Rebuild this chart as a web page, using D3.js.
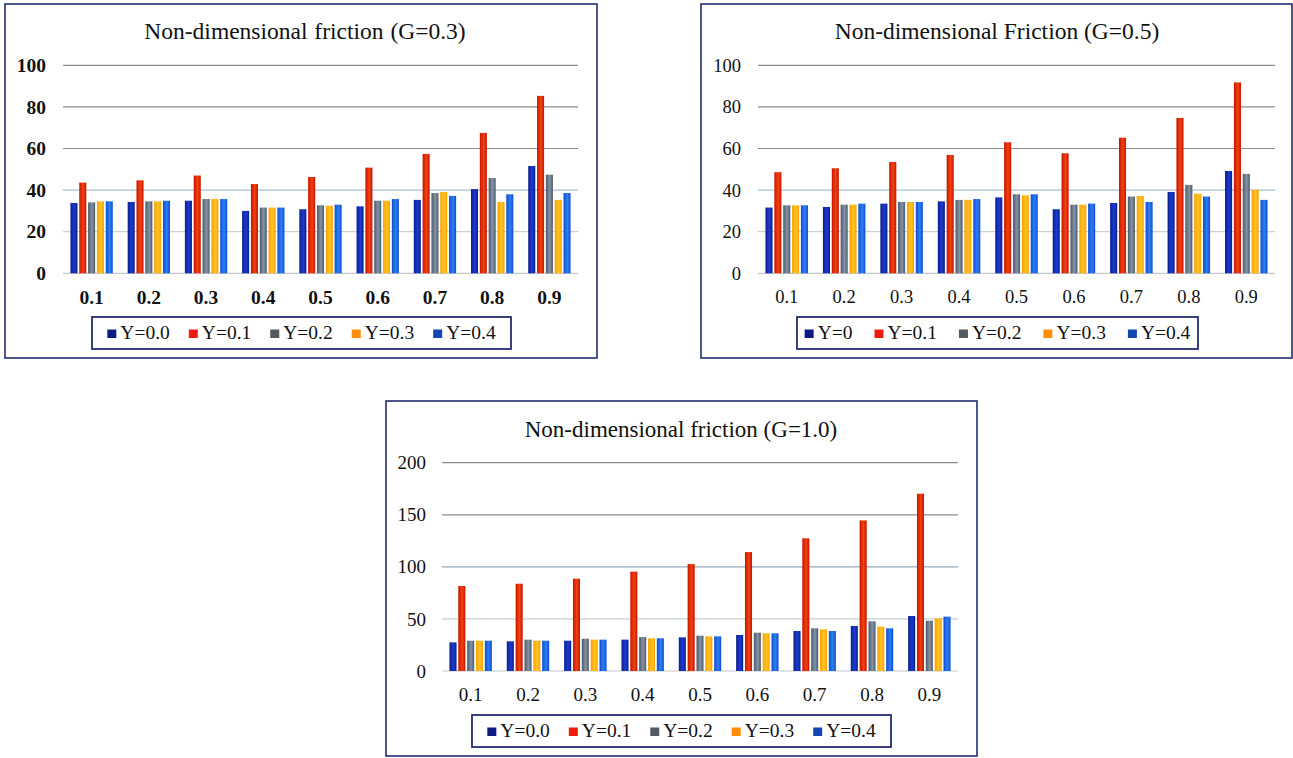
<!DOCTYPE html>
<html>
<head>
<meta charset="utf-8">
<script src="https://cdn.jsdelivr.net/npm/d3@7"></script>
<style>
  html, body { margin: 0; padding: 0; background: #ffffff; }
  svg { display: block; }
  text { font-family: "Liberation Serif", "Times New Roman", serif; fill: #111; }
</style>
</head>
<body>
<svg id="fig" width="1293" height="758"></svg>
<script>
// Categories on the x axis (shared by all three panels)
const categories = ["0.1", "0.2", "0.3", "0.4", "0.5", "0.6", "0.7", "0.8", "0.9"];

// Legend labels
const seriesLabelsA = ["Y=0.0", "Y=0.1", "Y=0.2", "Y=0.3", "Y=0.4"];
const seriesLabelsB = ["Y=0", "Y=0.1", "Y=0.2", "Y=0.3", "Y=0.4"];

// Non-dimensional friction, G = 0.3
const g03_y00 = [33.8, 34.3, 34.9, 30.0, 30.8, 32.2, 35.3, 40.5, 51.6];
const g03_y01 = [43.6, 44.7, 47.0, 42.9, 46.3, 50.8, 57.4, 67.5, 85.3];
const g03_y02 = [34.1, 34.6, 35.7, 31.6, 32.7, 34.9, 38.6, 45.8, 47.4];
const g03_y03 = [34.6, 34.6, 35.7, 31.6, 32.5, 34.9, 39.1, 34.3, 35.3];
const g03_y04 = [34.6, 34.9, 35.7, 31.6, 33.0, 35.7, 37.2, 38.0, 38.6];

// Non-dimensional friction, G = 0.5
const g05_y00 = [31.6, 31.9, 33.5, 34.6, 36.5, 30.8, 33.8, 39.1, 49.2];
const g05_y01 = [48.6, 50.5, 53.5, 56.9, 63.0, 57.7, 65.2, 74.7, 91.8];
const g05_y02 = [32.7, 33.0, 34.3, 35.3, 38.0, 33.0, 36.9, 42.5, 47.8];
const g05_y03 = [32.7, 33.0, 34.3, 35.3, 37.5, 33.0, 37.2, 38.3, 40.2];
const g05_y04 = [32.7, 33.5, 34.3, 35.7, 38.0, 33.5, 34.3, 36.9, 35.3];

// Non-dimensional friction, G = 1.0
const g10_y00 = [27.5, 28.5, 29.1, 30.1, 32.3, 34.6, 38.4, 43.2, 52.8];
const g10_y01 = [81.6, 83.8, 88.6, 95.4, 102.7, 114.2, 127.4, 144.6, 170.2];
const g10_y02 = [29.1, 30.1, 31.0, 32.6, 33.9, 36.8, 41.0, 47.7, 48.3];
const g10_y03 = [29.1, 29.1, 30.1, 31.4, 33.3, 36.2, 40.0, 42.6, 50.6];
const g10_y04 = [29.1, 29.1, 30.1, 31.4, 33.3, 36.2, 38.4, 41.0, 52.2];

// Y-axis ticks
const ticks100 = [0, 20, 40, 60, 80, 100];
const ticks200 = [0, 50, 100, 150, 200];

// Series styling: bar gradient (edge, centre) and legend swatch colour
const seriesStyles = [
  { edge: "#0b1d92", mid: "#1b3ccc", swatch: "#0c1a84" },
  { edge: "#c81400", mid: "#f2420f", swatch: "#ec1c0e" },
  { edge: "#4c5b6b", mid: "#8494a4", swatch: "#555a60" },
  { edge: "#ffa000", mid: "#ffc426", swatch: "#ff8c0c" },
  { edge: "#0c4fd2", mid: "#2e7ef2", swatch: "#1446b2" }
];

const svg = d3.select("#fig");
const defs = svg.append("defs");

seriesStyles.forEach((s, i) => {
  const g = defs.append("linearGradient")
    .attr("id", "barGrad" + i)
    .attr("x1", "0").attr("y1", "0").attr("x2", "1").attr("y2", "0");
  g.append("stop").attr("offset", "0").attr("stop-color", s.edge);
  g.append("stop").attr("offset", "0.55").attr("stop-color", s.mid);
  g.append("stop").attr("offset", "1").attr("stop-color", s.edge);
});

function gridColor(frac) {
  if (frac <= 0) return "#c4c8cc";
  if (frac < 0.3) return "#c9d0d6";
  if (frac < 0.45) return "#a8c2d6";
  if (frac < 0.55) return "#93a9b8";
  return "#8d8d8d";
}

function drawPanel(cfg) {
  const g = svg.append("g");

  // Panel frame
  g.append("rect")
    .attr("x", cfg.frame[0]).attr("y", cfg.frame[1])
    .attr("width", cfg.frame[2]).attr("height", cfg.frame[3])
    .attr("fill", "#fff").attr("stroke", "#232c72").attr("stroke-width", 1.6);

  // Title
  g.append("text")
    .attr("x", cfg.titleX).attr("y", cfg.titleY)
    .attr("text-anchor", "middle")
    .attr("font-size", cfg.titleSize)
    .style("font-family", '"Liberation Serif", serif')
    .style("word-spacing", cfg.wordSpacing + "px")
    .text(cfg.title);

  const x = d3.scaleBand().domain(categories).range([cfg.plot.left, cfg.plot.right]).padding(0);
  const xs = d3.scaleBand().domain(d3.range(cfg.series.length))
    .range([x.bandwidth() * 0.13, x.bandwidth() * 0.87]).paddingInner(0.2);
  const y = d3.scaleLinear().domain([0, cfg.yMax]).range([cfg.plot.bottom, cfg.plot.top]);

  // Horizontal gridlines
  g.append("g").selectAll("line").data(cfg.ticks).join("line")
    .attr("x1", cfg.plot.left).attr("x2", cfg.plot.right)
    .attr("y1", d => y(d)).attr("y2", d => y(d))
    .attr("stroke", d => gridColor(d / cfg.yMax))
    .attr("stroke-width", 1.2);

  // Y axis labels
  const yAxis = d3.axisLeft(y).tickValues(cfg.ticks).tickSize(0).tickPadding(cfg.yPad);
  const ya = g.append("g").attr("transform", `translate(${cfg.plot.left},0)`).call(yAxis);
  ya.select(".domain").remove();
  ya.selectAll("text")
    .attr("font-size", cfg.tickSize)
    .attr("font-weight", cfg.bold ? "bold" : "normal")
    .attr("fill", "#111");

  // X axis labels
  const xAxis = d3.axisBottom(x).tickSize(0).tickPadding(cfg.xPad);
  const xa = g.append("g").attr("transform", `translate(0,${cfg.plot.bottom})`).call(xAxis);
  xa.select(".domain").remove();
  xa.selectAll("text")
    .attr("font-size", cfg.tickSize)
    .attr("font-weight", cfg.bold ? "bold" : "normal")
    .attr("fill", "#111");

  // Bars
  cfg.series.forEach((vals, si) => {
    g.append("g").selectAll("rect").data(vals).join("rect")
      .attr("x", (d, i) => x(categories[i]) + xs(si))
      .attr("width", xs.bandwidth())
      .attr("y", d => y(d))
      .attr("height", d => y(0) - y(d))
      .attr("fill", `url(#barGrad${si})`);
  });

  // Legend
  const lb = cfg.legendBox;
  const leg = g.append("g");
  leg.append("rect")
    .attr("x", lb[0]).attr("y", lb[1]).attr("width", lb[2]).attr("height", lb[3])
    .attr("fill", "#fff").attr("stroke", "#232c72").attr("stroke-width", 1.8);

  const items = leg.selectAll("g.item").data(cfg.labels).join("g").attr("class", "item");
  items.append("rect")
    .attr("y", -9.5)
    .attr("width", 9).attr("height", 8.5)
    .attr("fill", (d, i) => seriesStyles[i].swatch);
  items.append("text")
    .attr("x", 13).attr("y", 0)
    .attr("font-size", 19.5)
    .text(d => d);

  const gap = cfg.legendGap;
  const widths = [];
  items.each(function () {
    widths.push(13 + d3.select(this).select("text").node().getComputedTextLength());
  });
  const total = d3.sum(widths) + gap * (widths.length - 1);
  let cx = lb[0] + (lb[2] - total) / 2;
  const baseline = lb[1] + lb[3] / 2 + 6;
  items.attr("transform", (d, i) => {
    const t = `translate(${cx},${baseline})`;
    cx += widths[i] + gap;
    return t;
  });
}

drawPanel({
  frame: [5, 4, 592, 354],
  title: "Non-dimensional friction (G=0.3)",
  titleX: 305, titleY: 39, titleSize: 23.5, wordSpacing: 1,
  plot: { left: 63, right: 578, top: 65.3, bottom: 273.3 },
  yMax: 100, ticks: ticks100,
  series: [g03_y00, g03_y01, g03_y02, g03_y03, g03_y04],
  labels: seriesLabelsA,
  bold: true, tickSize: 19.5, yPad: 17, xPad: 17,
  legendBox: [92, 317, 419, 32], legendGap: 19
});

drawPanel({
  frame: [701, 4, 591, 354],
  title: "Non-dimensional Friction (G=0.5)",
  titleX: 997, titleY: 39, titleSize: 23.5, wordSpacing: 0,
  plot: { left: 758, right: 1275, top: 65.3, bottom: 273.3 },
  yMax: 100, ticks: ticks100,
  series: [g05_y00, g05_y01, g05_y02, g05_y03, g05_y04],
  labels: seriesLabelsB,
  bold: false, tickSize: 18.5, yPad: 17, xPad: 17,
  legendBox: [797, 317, 401, 32], legendGap: 22
});

drawPanel({
  frame: [386, 401, 591, 355],
  title: "Non-dimensional friction (G=1.0)",
  titleX: 681, titleY: 437, titleSize: 23, wordSpacing: 0,
  plot: { left: 442, right: 958, top: 462.7, bottom: 671 },
  yMax: 200, ticks: ticks200,
  series: [g10_y00, g10_y01, g10_y02, g10_y03, g10_y04],
  labels: seriesLabelsA,
  bold: false, tickSize: 19, yPad: 16, xPad: 17,
  legendBox: [472, 715, 419, 32], legendGap: 19
});
</script>
</body>
</html>
